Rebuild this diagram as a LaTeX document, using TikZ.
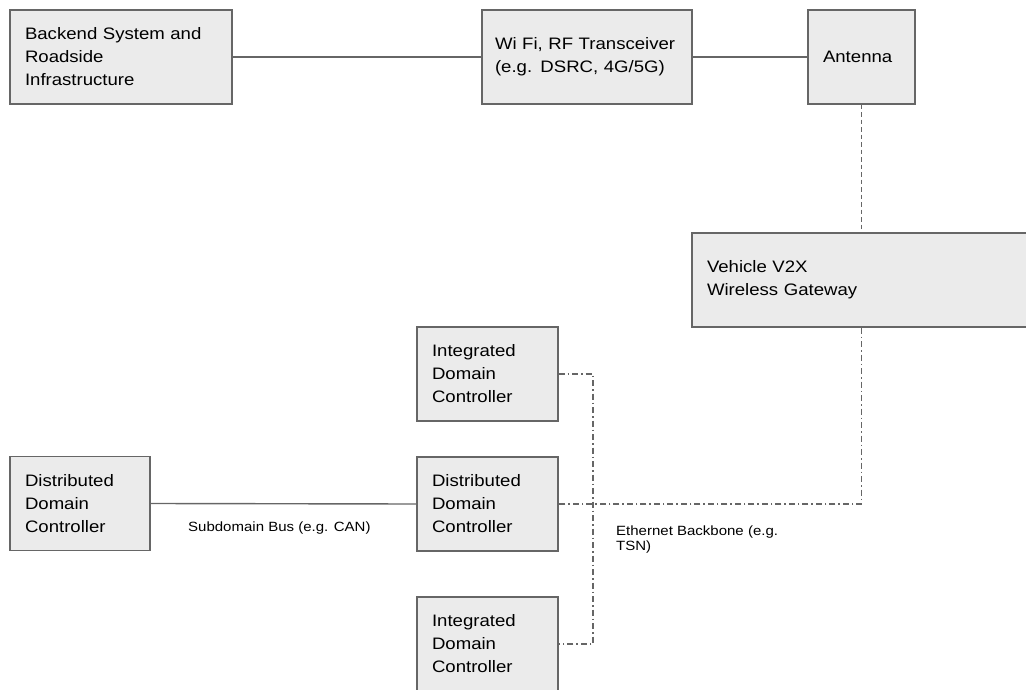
\documentclass[tikz,border=0pt]{standalone}
\usepackage{fontspec}
\setmainfont[FakeStretch=1.12]{Liberation Sans}
\begin{document}
\begin{tikzpicture}[x=1pt,y=-1pt,
  box/.style={draw=boxline, fill=boxfill, line width=1.4pt, rectangle,
    minimum height=94pt, inner xsep=15pt, inner ysep=0pt, align=left,
    font=\fontsize{16.6}{23}\selectfont, text=black},
  link/.style={draw=linkgray, line width=1.4pt},
  dashlink/.style={link, dash pattern=on 4.5pt off 3pt},
  dotdash/.style={link, dash pattern=on 6pt off 3pt on 1.5pt off 3pt},
  lbl/.style={font=\fontsize{13.4}{15}\selectfont, align=left, inner sep=0pt, text=black}]
\definecolor{boxfill}{HTML}{EBEBEB}
\definecolor{boxline}{HTML}{666666}
\definecolor{linkgray}{HTML}{666666}
\useasboundingbox (0,0) rectangle (1026,690);
\begin{scope}
\clip (0,0) rectangle (1026,690);
% top row
\node[box, text width=192pt] (back) at (121,57) {Backend System and\\Roadside\\Infrastructure};
\node[box, inner xsep=13pt, text width=184pt] (wifi) at (587,57) {Wi Fi, RF Transceiver\\(e.g. DSRC, 4G/5G)};
\node[box, text width=77pt] (ant) at (861.5,57) {Antenna};
% gateway
\node[box, text width=318pt] (v2x) at (866,280) {Vehicle V2X\\Wireless Gateway};
% domain controllers
\node[box, text width=111pt] (idc1) at (487.5,374) {Integrated\\Domain\\Controller};
\node[box, text width=111pt] (ddc) at (487.5,504) {Distributed\\Domain\\Controller};
\node[box, text width=110pt] (ddcl) at (80,503.5) {Distributed\\Domain\\Controller};
\node[box, text width=111pt] (idc2) at (487.5,644) {Integrated\\Domain\\Controller};
\end{scope}
% connectors
\draw[link] (back.east) -- (wifi.west);
\draw[link] (wifi.east) -- (ant.west);
\draw[dashlink] (ant.south) -- (ant.south |- v2x.north);
\draw[dotdash] (ant.south |- v2x.south) -- (ant.south |- ddc.east) -- (ddc.east);
\draw[link] (ddcl.east) -- (ddc.west);
\coordinate (bus) at (593,504);
\draw[dotdash] (idc1.east) -- (bus |- idc1.east) -- (bus |- idc2.east) -- (idc2.east);
% labels
\node[lbl, anchor=west] (canlbl) at (188,528) {Subdomain Bus (e.g. CAN)};
\node[lbl, anchor=west] (ethlbl) at (616,539.5) {Ethernet Backbone (e.g.\\TSN)};
\end{tikzpicture}
\end{document}
